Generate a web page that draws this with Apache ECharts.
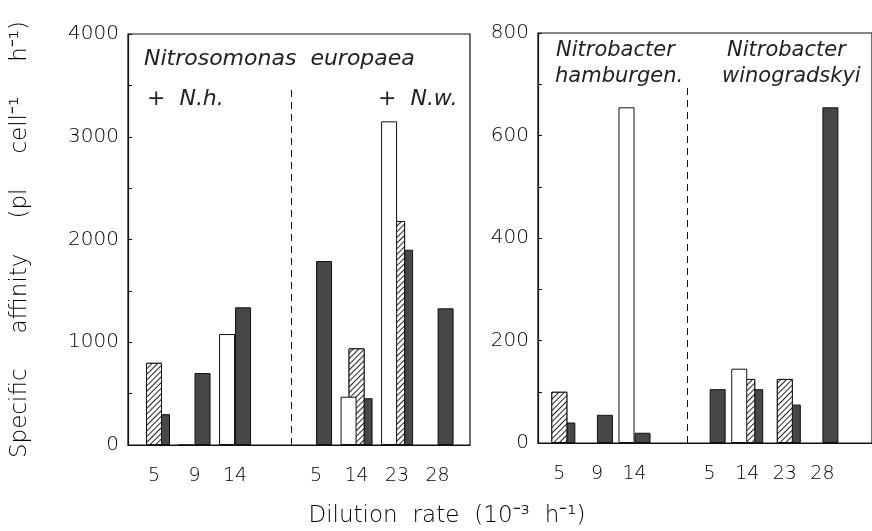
<!DOCTYPE html>
<html><head><meta charset="utf-8">
<script src="https://cdn.jsdelivr.net/npm/echarts@6/dist/echarts.min.js"></script>
<style>html,body{margin:0;padding:0;background:#fff}#c{width:872px;height:531px}</style>
</head><body><div id="c"></div>
<script>
// ---- data ----
const leftPositions = [0, 1, 2, 4, 5, 6, 7];
const leftLabels = ['5', '9', '14', '5', '14', '23', '28'];
const leftWhite = [null, 0, 1080, null, 470, 3150, null];
const leftHatched = [800, null, null, null, 940, 2180, null];
const leftDark = [300, 700, 1340, 1790, 455, 1900, 1330];

const rightPositions = [0, 1, 2, 4, 5, 6, 7];
const rightLabels = ['5', '9', '14', '5', '14', '23', '28'];
const rightWhite = [null, null, 655, null, 145, null, null];
const rightHatched = [100, null, null, null, 125, 125, null];
const rightDark = [40, 55, 20, 105, 105, 75, 655];

const leftYTicks = [0, 1000, 2000, 3000, 4000];
const rightYTicks = [0, 200, 400, 600, 800];
const separatorX = 3.2;

// ---- build ----
const FONT = 'DejaVu Sans';
const W = 200;
const INK = '#111';
const TXT = '#000';
function pairs(pos, vals) {
  const out = [];
  pos.forEach((p, i) => { if (vals[i] !== null) out.push([p, vals[i]]); });
  return out;
}
const whiteStyle = { color: '#fff', borderColor: INK, borderWidth: 1 };
const hatchStyle = {
  color: '#fff', borderColor: INK, borderWidth: 1,
  decal: { symbol: 'rect', symbolSize: 1, color: '#222', backgroundColor: '#fff',
           dashArrayX: [1, 0], dashArrayY: [1, 2.6], rotation: -Math.PI / 4 }
};
const darkStyle = { color: '#474747', borderColor: '#111', borderWidth: 1 };

function barSeries(gi, pos, w, h, d, sepTop) {
  const common = { type: 'bar', xAxisIndex: gi, yAxisIndex: gi, barWidth: 16, barGap: '-50%', animation: false, emphasis: { disabled: true } };
  return [
    Object.assign({}, common, { name: 'white' + gi, z: 4, itemStyle: whiteStyle, data: pairs(pos, w) }),
    Object.assign({}, common, { name: 'hatched' + gi, z: 3, itemStyle: hatchStyle, data: pairs(pos, h) }),
    Object.assign({}, common, { name: 'dark' + gi, z: 2, itemStyle: darkStyle, data: pairs(pos, d),
      markLine: { silent: true, symbol: 'none', animation: false, label: { show: false },
        lineStyle: { color: INK, type: [7, 5], width: 1 },
        data: [[{ coord: [separatorX, 0] }, { coord: [separatorX, sepTop] }]] } })
  ];
}

function xAxis(gi, min, max, pos, labels) {
  return {
    gridIndex: gi, type: 'value', min: min, max: max,
    splitLine: { show: false }, axisTick: { show: false },
    axisLine: { lineStyle: { color: INK, width: 1.2 } },
    axisLabel: { customValues: pos, margin: 22, color: TXT, fontFamily: FONT, fontWeight: W, fontSize: 19,
      formatter: v => { const i = pos.indexOf(v); return i >= 0 ? labels[i] : ''; } }
  };
}
function yAxis(gi, max, interval, ticks, extra) {
  return Object.assign({
    gridIndex: gi, type: 'value', min: 0, max: max, interval: interval,
    splitLine: { show: false },
    axisLine: { show: true, onZero: false, lineStyle: { color: INK, width: 1.2 } },
    axisTick: { show: true, inside: true, length: 4, lineStyle: { color: INK } },
    axisLabel: { margin: 9, color: TXT, fontFamily: FONT, fontWeight: W, fontSize: 20,
      formatter: v => ticks.indexOf(v) >= 0 ? String(v) : '' }
  }, extra || {});
}

const richName = {
  t: { fontFamily: FONT, fontWeight: W, fontSize: 23, color: TXT },
  s: { width: 35, fontSize: 23 }
};

const chart = echarts.init(document.getElementById('c'), null, { renderer: 'canvas' });
chart.setOption({
  backgroundColor: '#fff',
  animation: false,
  grid: [
    { left: 128, top: 34, width: 342, height: 411, show: true, borderColor: INK, borderWidth: 1.2 },
    { left: 538, top: 33, width: 360, height: 410, show: true, borderColor: INK, borderWidth: 1.2 }
  ],
  xAxis: [
    xAxis(0, -0.642, 7.8, leftPositions, leftLabels),
    xAxis(1, -0.568, 8.32, rightPositions, rightLabels)
  ],
  yAxis: [
    yAxis(0, 4000, 500, leftYTicks, {
      name: '{t|Specific}{s| }{t|affinity}{s| }{t|(pl}{s| }{t|cell⁻¹}{s| }{t|h⁻¹)}',
      nameLocation: 'middle', nameGap: 96, nameRotate: 90,
      nameTextStyle: { rich: richName }
    }),
    yAxis(1, 800, 100, rightYTicks)
  ],
  title: {
    text: '{t|Dilution}{s| }{t|rate}{s| }{t|(10⁻³}{s| }{t|h⁻¹)}',
    left: 442, top: 500, textAlign: 'center',
    textStyle: { fontWeight: 'normal', rich: { t: { fontFamily: FONT, fontWeight: W, fontSize: 23, color: TXT }, s: { width: 15, fontSize: 23 } } }
  },
  graphic: [
    { type: 'text', left: 144, top: 48, style: { text: 'Nitrosomonas  europaea', font: 'italic 200 22px "DejaVu Sans"', fill: '#222' } },
    { type: 'text', left: 147, top: 88, style: { text: '+  N.h.', font: 'italic 200 22px "DejaVu Sans"', fill: '#222' } },
    { type: 'text', left: 378, top: 88, style: { text: '+  N.w.', font: 'italic 200 22px "DejaVu Sans"', fill: '#222' } },
    { type: 'text', left: 556, top: 40, style: { text: 'Nitrobacter', font: 'italic 200 21px "DejaVu Sans"', fill: '#222' } },
    { type: 'text', left: 555, top: 66, style: { text: 'hamburgen.', font: 'italic 200 21px "DejaVu Sans"', fill: '#222' } },
    { type: 'text', left: 727, top: 40, style: { text: 'Nitrobacter', font: 'italic 200 21px "DejaVu Sans"', fill: '#222' } },
    { type: 'text', left: 722, top: 66, style: { text: 'winogradskyi', font: 'italic 200 21px "DejaVu Sans"', fill: '#222' } }
  ],
  series: [].concat(
    barSeries(0, leftPositions, leftWhite, leftHatched, leftDark, 3500),
    barSeries(1, rightPositions, rightWhite, rightHatched, rightDark, 700)
  )
});
</script>
</body></html>
